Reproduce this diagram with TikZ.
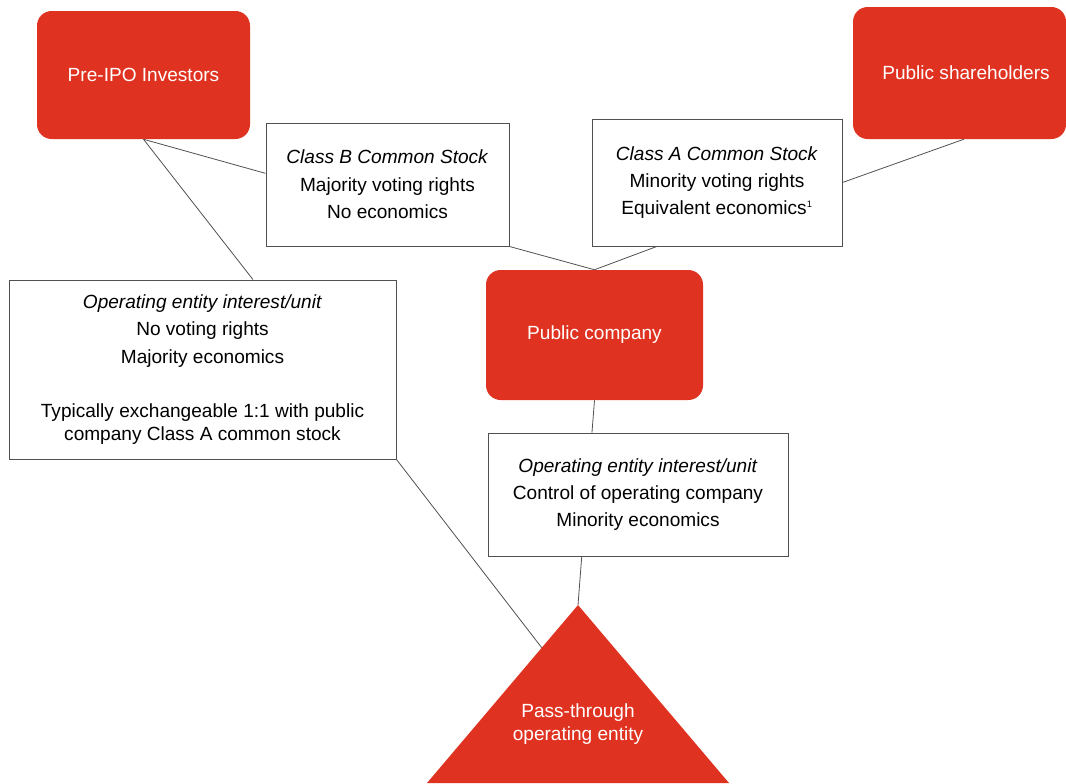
\documentclass[tikz,border=0pt]{standalone}
\usepackage{fontspec}
\setmainfont{Liberation Sans}
\usetikzlibrary{calc}

\definecolor{rosso}{HTML}{E03220}
\definecolor{bordo}{HTML}{505050}

\newcommand{\px}{0.75pt}

\tikzset{
    rossa/.style={fill=rosso, text=white, rounded corners=11pt, inner sep=0pt},
    scatola/.style={draw=bordo, line width=0.7pt, fill=white, align=center, inner sep=0pt},
    linea/.style={draw=bordo, line width=0.6pt}
}

\begin{document}
\begin{tikzpicture}[x=\px, y=-\px, font=\fontsize{14.3}{20.5}\selectfont]

    \useasboundingbox (0,0) rectangle (1066,783);

    % -- Soggetti in rosso --
    \node[rossa, minimum width=213*\px, minimum height=128*\px] (preipo) at (143.5,75) {Pre-IPO Investors};
    \node[rossa, minimum width=213*\px, minimum height=132*\px] (pubshare) at (959.5,73) {\hspace*{9.75pt}Public shareholders};
    \node[rossa, minimum width=217*\px, minimum height=130*\px] (pubco) at (594.5,335) {Public company};

    % Triangolo: entita' operativa
    \coordinate (apex) at (578,605);
    \coordinate (baseleft) at (427,783);
    \coordinate (baseright) at (729,783);
    \fill[rosso] (apex) -- (baseleft) -- (baseright) -- cycle;
    \node[text=white, align=center, font=\fontsize{14.3}{17.3}\selectfont] (pass) at (578,724) {Pass-through\\operating entity};

    % -- Riquadri con le azioni --
    \node[scatola, minimum width=243*\px, minimum height=123*\px] (classb) at (387.5,184.5)
        {\textit{Class B Common Stock}\\Majority voting rights\\No economics};
    \node[scatola, minimum width=250*\px, minimum height=127*\px] (classa) at (717,182.5)
        {\textit{Class A Common Stock}\\Minority voting rights\\Equivalent economics\textsuperscript{\fontsize{7}{7}\selectfont 1}};
    \node[scatola, minimum width=387*\px, minimum height=179*\px] (leftop) at (202.5,369.5)
        {\textit{Operating entity interest/unit}\\No voting rights\\Majority economics\\[20pt]%
         Typically exchangeable 1:1 with public\\[-3.2pt]company Class A common stock};
    \node[scatola, minimum width=300*\px, minimum height=123*\px] (rightop) at (638,494.5)
        {\textit{Operating entity interest/unit}\\Control of operating company\\Minority economics};

    % -- Collegamenti --
    \draw[linea] (preipo.south) -- ($(classb.north west)!0.41!(classb.south west)$);
    \draw[linea] (preipo.south) -- ($(leftop.north west)!0.63!(leftop.north east)$);
    \draw[linea] (classb.south east) -- (pubco.north);
    \draw[linea] ($(classa.south west)!0.26!(classa.south east)$) -- (pubco.north);
    \draw[linea] (classa.east) -- ($(pubshare.south west)!0.52!(pubshare.south east)$);
    \draw[linea] (pubco.south) -- ($(rightop.north west)!0.347!(rightop.north east)$);
    \draw[linea] ($(rightop.south west)!0.313!(rightop.south east)$) -- (apex);
    \draw[linea] (leftop.south east) -- ($(apex)!0.24!(baseleft)$);

\end{tikzpicture}
\end{document}
